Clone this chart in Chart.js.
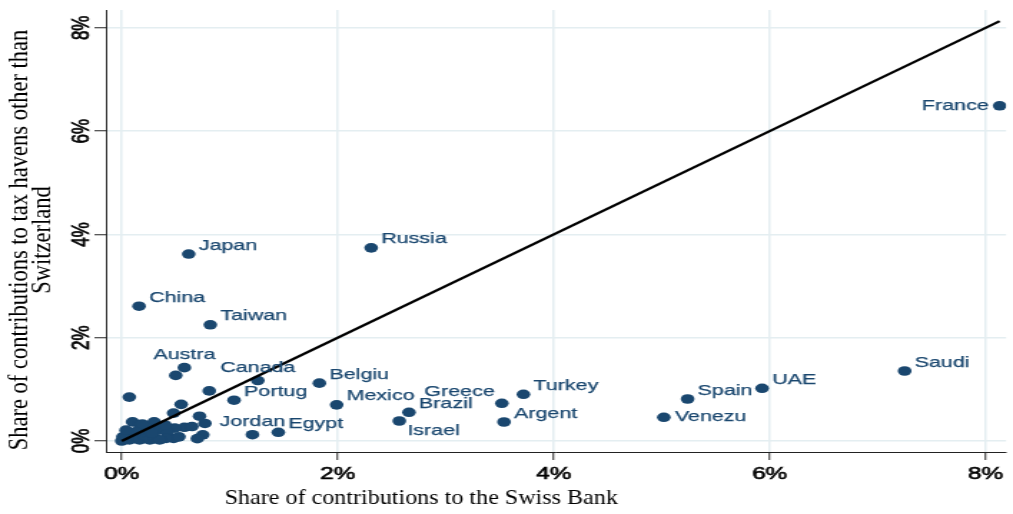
<!DOCTYPE html>
<html>
<head>
<meta charset="utf-8">
<script src="https://cdn.jsdelivr.net/npm/chart.js@4/dist/chart.umd.min.js"></script>
<style>
  html, body { margin: 0; padding: 0; background: #ffffff; }
  #c { display: block; width: 1013px; height: 514px; }
</style>
</head>
<body>
<canvas id="c" width="708" height="514" style="width:1013px;height:514px;"></canvas>
<script>
// ---- data (percent) ----
const countries = ['Japan','Russia','China','Taiwan','Austra','Canada','Portug','Belgiu','Mexico','Brazil','Israel','Greece','Turkey','Argent','Venezu','Spain','UAE','Saudi','France','Jordan','Egypt',
  '','','','','','','','','','','','','','','','','','','','','','','','','','','','','','','','','','','','','',''];
const swissShare = [0.62, 2.31, 0.16, 0.82, 0.58, 1.26, 1.04, 1.83, 1.99, 2.66, 2.57, 3.52, 3.72, 3.54, 5.02, 5.24, 5.93, 7.25, 8.13, 1.21, 1.45,
  0.07, 0.50, 0.81, 0.55, 0.48, 0.72, 0.77, 0.75, 0.70, 0.58, 0.49, 0.48, 0.30, 0.10, 0.17, 0.65, 0.38, 0.42, 0.53, 0.41,
  0.00, 0.01, 0.03, 0.07, 0.055, 0.12, 0.165, 0.21, 0.26, 0.30, 0.35, 0.14, 0.24, 0.32, 0.01, 0.04, 0.28, 0.19, 0.40];
const otherShare = [3.62, 3.74, 2.61, 2.25, 1.42, 1.17, 0.79, 1.12, 0.70, 0.556, 0.387, 0.73, 0.904, 0.368, 0.459, 0.813, 1.02, 1.355, 6.49, 0.122, 0.168,
  0.85, 1.27, 0.97, 0.71, 0.54, 0.48, 0.34, 0.12, 0.045, 0.265, 0.25, 0.05, 0.37, 0.37, 0.31, 0.28, 0.21, 0.18, 0.08, 0.05,
  0.00, 0.02, 0.06, 0.02, 0.135, 0.08, 0.02, 0.10, 0.02, 0.08, 0.02, 0.19, 0.23, 0.25, 0.08, 0.21, 0.155, 0.33, 0.31];
const diagLine = [0, 8.13];            // 45-degree reference line ends
const axisTicks = [0, 2, 4, 6, 8];      // tick values (percent)
const xTitle = 'Share of contributions to the Swiss Bank';
const yTitle = ['Share of contributions to tax havens other than', 'Switzerland'];

// ---- label placement (style) ----
const labelPos = { Austra: 'N', Canada: 'N', Jordan: 'N', Israel: 'SE', Greece: 'NW', Venezu: 'E0', France: 'W' };

const NAVY = '#1a476f';

const points = swissShare.map((x, i) => ({ x: x, y: otherShare[i], name: countries[i] }));

const labelPlugin = {
  id: 'pointLabels',
  afterDatasetsDraw(chart) {
    const ctx = chart.ctx;
    const meta = chart.getDatasetMeta(1);
    ctx.save();
    ctx.font = '15px "Liberation Sans", Arial, sans-serif';
    ctx.fillStyle = NAVY;
    ctx.strokeStyle = NAVY;
    ctx.lineWidth = 0.25;
    ctx.textBaseline = 'middle';
    meta.data.forEach((el, i) => {
      const name = points[i].name;
      if (!name) return;
      const pos = labelPos[name] || 'NE';
      let x = el.x, y = el.y, align = 'left';
      if (pos === 'NE') { x += 7; y -= 8.5; }
      else if (pos === 'N') { align = 'center'; y -= 13; }
      else if (pos === 'SE') { x += 5.6; y += 10; }
      else if (pos === 'NW') { align = 'right'; x -= 5; y -= 11; }
      else if (pos === 'E0') { x += 7.7; }
      else if (pos === 'W') { align = 'right'; x -= 7.7; }
      ctx.textAlign = align;
      ctx.fillText(name, x, y);
      ctx.strokeText(name, x, y);
    });
    ctx.restore();
  }
};

const titlePlugin = {
  id: 'axisTitles',
  afterDraw(chart) {
    const ctx = chart.ctx;
    ctx.save();
    ctx.fillStyle = '#000';
    ctx.textAlign = 'center';
    ctx.textBaseline = 'middle';
    // x-axis title
    ctx.save();
    ctx.translate(294.4, 498);
    ctx.scale(0.765, 1);
    ctx.font = '22px "Liberation Serif", "Times New Roman", serif';
    ctx.fillText(xTitle, 0, 0);
    ctx.restore();
    // y-axis title (two lines)
    const cy = chart.chartArea.top + (chart.chartArea.bottom - chart.chartArea.top) / 2 + 9;
    [13.6, 29.6].forEach((lx, k) => {
      ctx.save();
      ctx.translate(lx, cy);
      ctx.scale(0.84, 1);
      ctx.rotate(-Math.PI / 2);
      ctx.font = '22.5px "Liberation Serif", "Times New Roman", serif';
      ctx.fillText(yTitle[k], 0, 0);
      ctx.restore();
    });
    ctx.restore();
  }
};

const gridColor = '#e4eef1';
const tickFont = { family: '"Liberation Sans", Arial, sans-serif', size: 17 };

new Chart(document.getElementById('c'), {
  data: {
    datasets: [
      {
        type: 'line',
        data: diagLine.map(v => ({ x: v, y: v })),
        borderColor: '#000',
        borderWidth: 2.3,
        pointRadius: 0,
        fill: false,
        order: 0
      },
      {
        type: 'scatter',
        data: points,
        backgroundColor: NAVY,
        borderColor: NAVY,
        borderWidth: 0,
        pointRadius: 4.8,
        pointHoverRadius: 4.8,
        order: 1
      }
    ]
  },
  options: {
    responsive: false,
    devicePixelRatio: 1,
    animation: false,
    events: [],
    layout: { padding: { top: 10, right: 0, left: 0, bottom: 0 } },
    plugins: { legend: { display: false }, tooltip: { enabled: false } },
    scales: {
      x: {
        type: 'linear',
        min: -0.147,
        max: 8.19,
        afterFit(scale) { scale.height = 62; },
        afterBuildTicks(scale) { scale.ticks = axisTicks.map(v => ({ value: v })); },
        ticks: { font: tickFont, color: '#000', textStrokeColor: '#000', textStrokeWidth: 0.6, padding: 4, callback: v => v + '%' },
        grid: { color: gridColor, lineWidth: 1.5, tickLength: 8, tickColor: '#222', tickWidth: 1 },
        border: { display: true, color: '#222', width: 1 }
      },
      y: {
        type: 'linear',
        min: -0.213,
        max: 8.345,
        afterFit(scale) { scale.width = 74; },
        afterBuildTicks(scale) { scale.ticks = axisTicks.map(v => ({ value: v })); },
        ticks: { font: tickFont, color: '#000', textStrokeColor: '#000', textStrokeWidth: 0.6, padding: -4, minRotation: 90, maxRotation: 90, crossAlign: 'center', callback: v => v + '%' },
        grid: { color: gridColor, lineWidth: 1.5, tickLength: 8, tickColor: '#222', tickWidth: 1 },
        border: { display: true, color: '#222', width: 1 }
      }
    }
  },
  plugins: [labelPlugin, titlePlugin]
});
</script>
</body>
</html>
